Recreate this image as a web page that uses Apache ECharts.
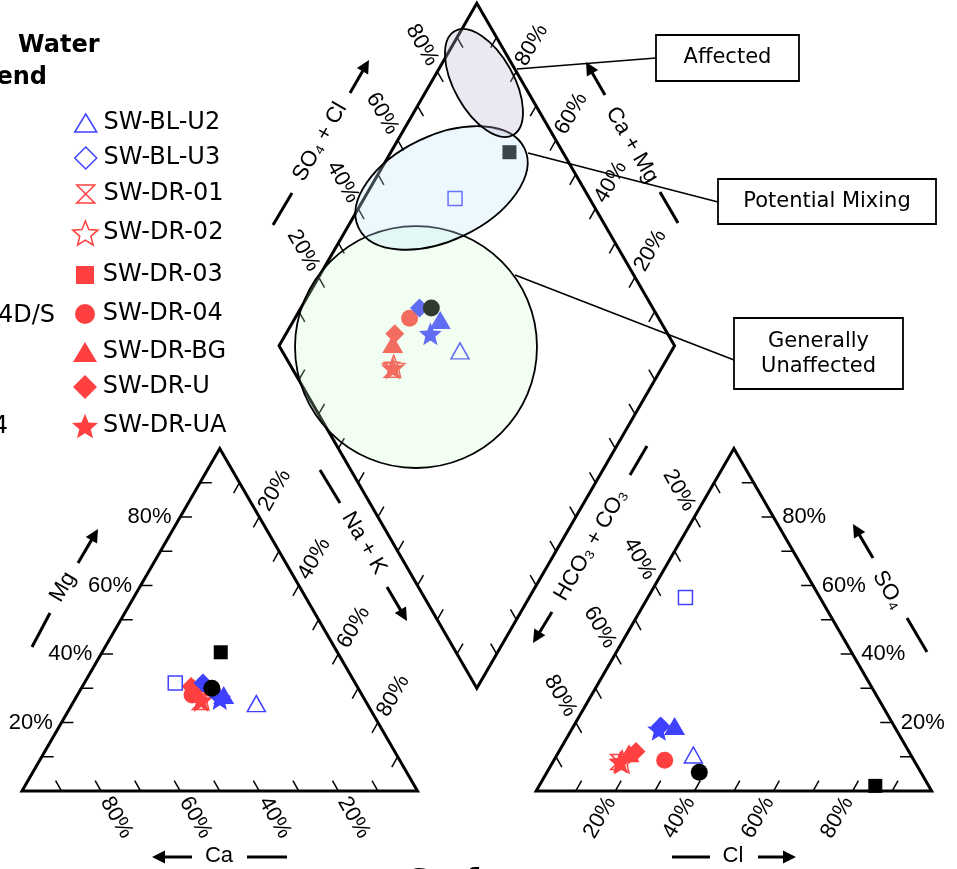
<!DOCTYPE html>
<html>
<head>
<meta charset="utf-8">
<title>Piper diagram</title>
<script src="https://cdn.jsdelivr.net/npm/echarts@6.0.0/dist/echarts.min.js"></script>
<style>
html,body{margin:0;padding:0;background:#ffffff;}
#chart{width:957px;height:869px;}
</style>
</head>
<body>
<div id="chart"></div>
<script>
// ================= DATA (percent of total meq/L) =================
const seriesNames = ['SW-BL-U2','SW-BL-U3','SW-DR-01','SW-DR-02','SW-DR-03','SW-DR-04','SW-DR-BG','SW-DR-U','SW-DR-UA',
                     'Blue diamond','Blue triangle','Blue star','Blue open triangle','Blue open square','Black circle','Black square'];
// cations
const caPct   = [null, null, 42,   41,   null, 43, 41.5, 42,   41.5, 38.5, 35,   36.5, 28,   45.5, 37,   29.5];
const mgPct   = [null, null, 26,   27,   null, 28, 30,   30.5, 26.5, 31.5, 28,   27,   25.5, 31.5, 30,   40.5];
const nakPct  = [null, null, 32,   32,   null, 29, 28.5, 27.5, 32,   30,   37,   36.5, 46.5, 23,   33,   30];
// anions
const hco3Pct = [null, null, 75,   74,   null, 63, 71,   69,   74.5, 59,   55.5, 60,   55,   34,   56,   13.5];
const clPct   = [null, null, 16.5, 17.5, null, 28, 18,   19.5, 17,   22,   25.5, 22,   34.5, 9.5,  38.5, 85];
const so4Pct  = [null, null, 8.5,  8.5,  null, 9,  11,   11.5, 8.5,  19,   19,   18,   10.5, 56.5, 5.5,  1.5];

const legendNames = ['SW-BL-U2','SW-BL-U3','SW-DR-01','SW-DR-02','SW-DR-03','SW-DR-04','SW-DR-BG','SW-DR-U','SW-DR-UA'];
const tickValues = [10,20,30,40,50,60,70,80,90];
const tickLabelValues = [20,40,60,80];
const tickLabelText = ['20%','40%','60%','80%'];

// ================= STYLES =================
const BLUE = '#4040ff', RED = '#ff4040', BLACK = '#000000';
const STAR = 'path://M50,0L62.93,32.2L97.55,34.55L70.92,56.8L79.39,90.45L50,72L20.61,90.45L29.08,56.8L2.45,34.55L37.07,32.2Z';
const HOURGLASS = 'path://M0,0L10,0L0,10L10,10Z';
const symbols = ['triangle','diamond',HOURGLASS,STAR,'rect','circle','triangle','diamond',STAR,'diamond','triangle',STAR,'triangle','rect','circle','rect'];
const symRot  = [180,0,0,0,0,0,0,0,0,0,0,0,0,0,0,0];
const colors  = [BLUE,BLUE,RED,RED,RED,RED,RED,RED,RED,BLUE,BLUE,BLUE,BLUE,BLUE,BLACK,BLACK];
const filled  = [false,false,false,false,true,true,true,true,true,true,true,true,false,false,true,true];
const sizes   = [[18,16],17,15,22,14,17,[21,18],19,23,19,[21,18],23,[18,16],14,17,14];

const legendRowY = [123,158,194,233,275,314,352,387,426];
const legendIcon = [[22,18],[22,22],[18,18],[26,24],[18,18],[20,20],[24,20],[24,24],[26,26]];

// ================= GEOMETRY (triangle side = 100 units) =================
const H = 86.6025, GAP = 30;
const A1=[0,0], B1=[100,0], C1=[50,H];
const A2=[130,0], B2=[230,0], C2=[180,H];
const DB=[115, GAP*H/100], DL=[65, GAP*H/100+H], DR=[165, GAP*H/100+H], DT=[115, GAP*H/100+2*H];
function lerp(a,b,t){ return [a[0]+(b[0]-a[0])*t, a[1]+(b[1]-a[1])*t]; }
function cationXY(mg,nak){ return [A1[0] + nak + mg/2, mg*H/100]; }
function anionXY(so4,cl){ return [A2[0] + cl + so4/2, so4*H/100]; }
function diamondXY(nak,hco3){ const u=nak/100, w=hco3/100; return [DB[0]+50*(u-w), DB[1]+H*(2-u-w)]; }

const PX_PER_UNIT = 3.955, ORIGIN_X = 22, ORIGIN_Y = 791, W = 957, HH = 869;

const series = seriesNames.map((name,i)=>({
  type:'scatter', name,
  symbol: symbols[i], symbolRotate: symRot[i], symbolSize: sizes[i],
  itemStyle: filled[i] ? {color: colors[i], opacity:1} : {color:'rgba(0,0,0,0)', borderColor: colors[i], borderWidth:1.5, opacity:1},
  data: mgPct[i]==null ? [] : [cationXY(mgPct[i], nakPct[i]), anionXY(so4Pct[i], clPct[i]), diamondXY(nakPct[i], hco3Pct[i])],
  z: 2, silent: true
}));

const legends = legendNames.map((n,i)=>{
  const w = legendIcon[i][0], h = legendIcon[i][1];
  const si = seriesNames.indexOf(n);
  return {
    data:[n], orient:'vertical', left: 85 - w/2, top: legendRowY[i]-14, padding:0,
    itemWidth:w, itemHeight:h, selectedMode:false,
    itemStyle: filled[si] ? {borderWidth:0, opacity:1} : {borderWidth:1.5, borderColor: colors[si], color:'rgba(0,0,0,0)', opacity:1},
    textStyle:{fontFamily:'DejaVu Sans', fontSize:24, color:'#000', lineHeight:28, padding:[0,0,0,Math.max(0,12.7-w/2)]}
  };
});

const chart = echarts.init(document.getElementById('chart'), null, {renderer:'canvas'});
chart.setOption({
  animation:false,
  backgroundColor:'#ffffff',
  grid:{left:0, top:0, right:0, bottom:0},
  xAxis:{type:'value', min:-ORIGIN_X/PX_PER_UNIT, max:(W-ORIGIN_X)/PX_PER_UNIT, show:false},
  yAxis:{type:'value', min:-(HH-ORIGIN_Y)/PX_PER_UNIT, max:ORIGIN_Y/PX_PER_UNIT, show:false},
  legend: legends,
  series: series
});

// ================= DECORATION =================
const P = p => chart.convertToPixel({gridIndex:0}, p);
const els = [];
const TICK = 3.0, LGAP = 2.2;
const TICKFONT = '22px "Liberation Sans", "DejaVu Sans", sans-serif';
const AXFONT = '22px "Liberation Sans", "DejaVu Sans", sans-serif';
const BOXFONT = '21px "DejaVu Sans", sans-serif';
const dUL=[-0.5,0.866], dUR=[0.5,0.866], dDL=[-0.5,-0.866], dDR=[0.5,-0.866];

function txt(x,y,text,opt){
  return {type:'text', x:x, y:y, rotation:(opt.rot||0)*Math.PI/180, z:opt.z||4, silent:true,
    style:{text:text, fill:'#000', font:opt.font, align:opt.align||'center', verticalAlign:opt.va||'middle', lineHeight:opt.lh}};
}
function seg(x1,y1,x2,y2,lw,z){ return {type:'line', shape:{x1,y1,x2,y2}, style:{stroke:'#000', lineWidth:lw, lineCap:'butt'}, z:z||4, silent:true}; }
function arrow(x1,y1,x2,y2){
  const dx=x2-x1, dy=y2-y1, L=Math.hypot(dx,dy), ux=dx/L, uy=dy/L, hl=13, hw=6.5;
  const bx=x2-ux*hl, by=y2-uy*hl;
  els.push(seg(x1,y1,bx+ux*3,by+uy*3,3));
  els.push({type:'polygon', shape:{points:[[x2,y2],[bx-uy*hw,by+ux*hw],[bx+uy*hw,by-ux*hw]]}, style:{fill:'#000'}, z:4, silent:true});
}

// outlines
[[A1,B1,C1],[A2,B2,C2],[DB,DR,DT,DL]].forEach(poly=>{
  els.push({type:'polygon', shape:{points:poly.map(P)}, style:{fill:'none', stroke:'#000', lineWidth:3, lineJoin:'miter'}, z:1, silent:true});
});

// sides: value 0 at p0, 100 at p1
const sides = [
  {p0:B1, p1:A1, tick:dUL, label:dDR, rot:-60, align:'left'},   // Ca
  {p0:A1, p1:C1, tick:[1,0], label:[-1,0], rot:0, align:'right'}, // Mg
  {p0:C1, p1:B1, tick:dDL, label:dUR, rot:60, align:'left'},    // Na+K
  {p0:A2, p1:B2, tick:dUR, label:dDL, rot:60, align:'right'},   // Cl
  {p0:B2, p1:C2, tick:[-1,0], label:[1,0], rot:0, align:'left'}, // SO4
  {p0:C2, p1:A2, tick:dDR, label:dUL, rot:-60, align:'right'},  // HCO3
  {p0:DL, p1:DT, tick:dDR, label:dUL, rot:-60, align:'right'},  // SO4+Cl
  {p0:DR, p1:DT, tick:dDL, label:dUR, rot:60, align:'left'},    // Ca+Mg
  {p0:DL, p1:DB, tick:dUR},                                      // Na+K (diamond)
  {p0:DR, p1:DB, tick:dUL}                                       // HCO3+CO3 (diamond)
];
sides.forEach(s=>{
  tickValues.forEach(v=>{
    const p = lerp(s.p0, s.p1, v/100);
    const a = P(p), b = P([p[0]+s.tick[0]*TICK, p[1]+s.tick[1]*TICK]);
    els.push(seg(a[0],a[1],b[0],b[1],1.5,1));
  });
  if (s.label) tickLabelValues.forEach((v,j)=>{
    const p = lerp(s.p0, s.p1, v/100);
    const a = P([p[0]+s.label[0]*LGAP, p[1]+s.label[1]*LGAP]);
    els.push(txt(a[0],a[1],tickLabelText[j],{rot:s.rot, align:s.align, font:TICKFONT}));
  });
});

// axis titles with arrows
els.push(txt(63,587,'Mg',{rot:60,font:AXFONT})); els.push(seg(32,647,50,613,3)); arrow(78,563,98,529);
els.push(txt(219,856,'Ca',{font:AXFONT})); arrow(192,857,152,857); els.push(seg(247,857,287,857,3));
els.push(txt(364,543,'Na + K',{rot:-60,font:AXFONT})); els.push(seg(320,470,340,503,3)); arrow(387,587,407,621);
els.push(txt(591,545,'HCO\u2083 + CO\u2083',{rot:60,font:AXFONT})); els.push(seg(630,475,647,446,3)); arrow(552,612,533,643);
els.push(txt(888,590,'SO\u2084',{rot:-60,font:AXFONT})); arrow(873,558,853,524); els.push(seg(907,618,927,652,3));
els.push(txt(733,856,'Cl',{font:AXFONT})); els.push(seg(672,857,710,857,3)); arrow(758,857,796,857);
els.push(txt(320,142,'SO\u2084 + Cl',{rot:60,font:AXFONT})); arrow(350,93,369,60); els.push(seg(273,225,292,193,3));
els.push(txt(632,145,'Ca + Mg',{rot:-60,font:AXFONT})); arrow(605,95,586,62); els.push(seg(660,192,678,223,3));

// zone ellipses (units)
const zones = [
  {c:[99.62,112.26], rx:30.59, ry:30.59, rot:0,     fill:'rgba(201,251,201,0.24)'},
  {c:[106.07,152.47], rx:23.26, ry:13.27, rot:25.5, fill:'rgba(192,232,252,0.30)'},
  {c:[116.81,179.01], rx:15.07, ry:7.53, rot:-60.8, fill:'rgba(188,178,212,0.30)'}
];
const k = P([1,0])[0] - P([0,0])[0];
zones.forEach(zn=>{
  const c = P(zn.c);
  els.push({type:'ellipse', x:c[0], y:c[1], rotation:zn.rot*Math.PI/180, shape:{cx:0, cy:0, rx:zn.rx*k, ry:zn.ry*k},
    style:{fill:zn.fill, stroke:'#000', lineWidth:1.8}, z:10, silent:true});
});

// callouts
els.push(seg(517,69,656,58,1.6,11));
els.push({type:'rect', shape:{x:656,y:35,width:143,height:46}, style:{fill:'#fff', stroke:'#000', lineWidth:1.8}, z:11, silent:true});
els.push(txt(727.5,58,'Affected',{font:BOXFONT, z:12}));
els.push(seg(528,153,718,202,1.6,11));
els.push({type:'rect', shape:{x:718,y:179,width:218,height:45}, style:{fill:'#fff', stroke:'#000', lineWidth:1.8}, z:11, silent:true});
els.push(txt(827,201.5,'Potential Mixing',{font:BOXFONT, z:12}));
els.push(seg(515,275,734,360,1.6,11));
els.push({type:'rect', shape:{x:734,y:318,width:169,height:71}, style:{fill:'#fff', stroke:'#000', lineWidth:1.8}, z:11, silent:true});
els.push(txt(818.5,354,'Generally\nUnaffected',{font:BOXFONT, z:12, lh:25}));

// legend title & clipped texts
els.push(txt(99.5,46,'Water',{font:'bold 24px "DejaVu Sans", sans-serif', align:'right'}));
els.push(txt(47,78,'Legend',{font:'bold 24px "DejaVu Sans", sans-serif', align:'right'}));
els.push(txt(55,316,'4D/S',{font:'24px "DejaVu Sans", sans-serif', align:'right'}));
els.push(txt(8,427,'4',{font:'24px "DejaVu Sans", sans-serif', align:'right'}));
els.push(txt(408,867,'Surface',{font:'bold 30px "DejaVu Sans", sans-serif', align:'left', va:'top'}));

chart.setOption({graphic:{elements:els}});
</script>
</body>
</html>
